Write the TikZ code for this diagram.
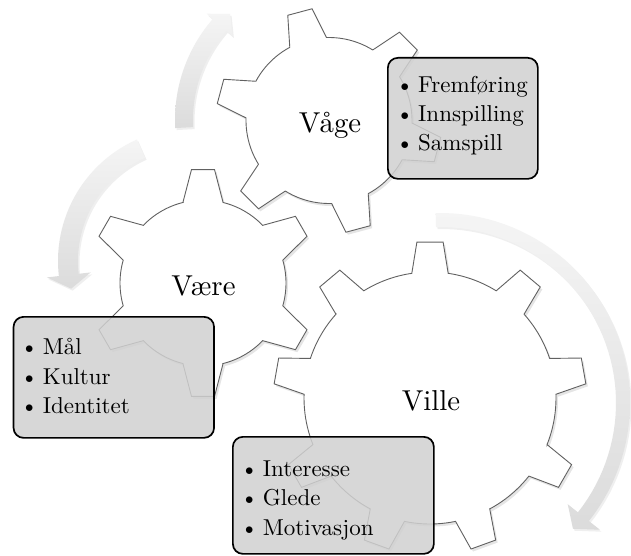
\documentclass[tikz,border=0pt]{standalone}
\usepackage{fontspec}
\setmainfont{lmroman10-regular}[Extension=.otf]
\usetikzlibrary{shadows}
\newcommand\drawgear[8]{%
 \begin{scope}[shift={(#1,#2)}]
 \pgfmathsetmacro\gstep{360/#3}
 \pgfmathtruncatemacro\glast{#3-1}
 \draw[gearsty] ({#4-90-#8}:#6)
  \foreach \k [evaluate=\k as \ta using #4-90+\k*\gstep-#8,
               evaluate=\k as \tb using #4-90+\k*\gstep-#7,
               evaluate=\k as \tc using #4-90+\k*\gstep+#7,
               evaluate=\k as \td using #4-90+\k*\gstep+#8,
               evaluate=\k as \te using #4-90+\k*\gstep+\gstep-#8] in {0,...,\glast}
  { -- (\ta:#6) -- (\tb:#5) -- (\tc:#5) -- (\td:#6) -- plot[domain=\td:\te, samples=12, variable=\u] (\u:#6) }
  -- cycle;
 \end{scope}}
\newcommand\bul{\llap{\makebox[0pt][c]{\textbullet}\hspace{13.5pt}}}
\begin{document}
\begin{tikzpicture}[x=1pt,y=-1pt,
  gearsty/.style={draw=black!62, line width=0.9pt, fill=white,
    drop shadow={opacity=0.2, shadow xshift=2pt, shadow yshift=-2.5pt}},
  arrowsty/.style={draw=none, top color=black!4, bottom color=black!14,
    drop shadow={opacity=0.12, shadow xshift=1.5pt, shadow yshift=-2pt}},
  listbox/.style={draw=black, line width=1.7pt, rounded corners=10pt, fill=black!18, fill opacity=0.85, inner sep=0pt, anchor=north west},
  gearlabel/.style={font=\fontsize{28.8}{34}\selectfont, inner sep=0pt, anchor=base},
  itemtext/.style={font=\fontsize{23}{28}\selectfont, inner sep=0pt, anchor=base west}]

\useasboundingbox[fill=white] (0,0) rectangle (631,556);

% circular arrows
\begin{scope}[shift={(329,120)}]
\path[arrowsty] (177:154) -- plot[domain=177:221, samples=25, variable=\u] (\u:154)
  -- (221:162) -- (227:145) -- (221:128) -- (221:136)
  -- plot[domain=221:177, samples=25, variable=\u] (\u:136) -- cycle;
\end{scope}
\begin{scope}[shift={(191,261)}]
\path[arrowsty] (246:133) -- plot[domain=246:173.5, samples=30, variable=\u] (\u:133)
  -- (173.5:145) -- (167:123) -- (173.5:101) -- (173.5:113)
  -- plot[domain=173.5:246, samples=30, variable=\u] (\u:113) -- cycle;
\end{scope}
\begin{scope}[shift={(440,403)}]
\path[arrowsty] (268.7:190) -- plot[domain=268.7:398.4, samples=50, variable=\u] (\u:190)
  -- (398.4:204) -- (403.4:183) -- (398.4:163) -- (398.4:176)
  -- plot[domain=398.4:268.7, samples=50, variable=\u] (\u:176) -- cycle;
\end{scope}

% gears
\drawgear{329}{120.5}{6}{-15}{113}{83}{6.4}{13.2}
\drawgear{203}{283}{6}{0}{114}{83}{5.8}{14}
\drawgear{430}{398}{9}{0}{156.5}{126}{4.8}{8.3}

\node[gearlabel] (vage) at (330,133) {Våge};
\node[gearlabel] (vaere) at (203.5,295) {Være};
\node[gearlabel] (ville) at (431,410) {Ville};

% list boxes
\node[listbox, minimum width=150pt, minimum height=121pt] (box1) at (387,57) {};
\node[listbox, minimum width=200.5pt, minimum height=121pt] (box2) at (12.7,316) {};
\node[listbox, minimum width=201pt, minimum height=117pt] (box3) at (232,436) {};

\node[itemtext] (b1a) at (418,93) {\bul Fremføring};
\node[itemtext] (b1b) at (418,122) {\bul Innspilling};
\node[itemtext] (b1c) at (418,151) {\bul Samspill};

\node[itemtext] (b2a) at (42.7,354) {\bul Mål};
\node[itemtext] (b2b) at (42.7,384) {\bul Kultur};
\node[itemtext] (b2c) at (42.7,413) {\bul Identitet};

\node[itemtext] (b3a) at (262.7,476) {\bul Interesse};
\node[itemtext] (b3b) at (262.7,505.5) {\bul Glede};
\node[itemtext] (b3c) at (262.7,535) {\bul Motivasjon};
\end{tikzpicture}
\end{document}
